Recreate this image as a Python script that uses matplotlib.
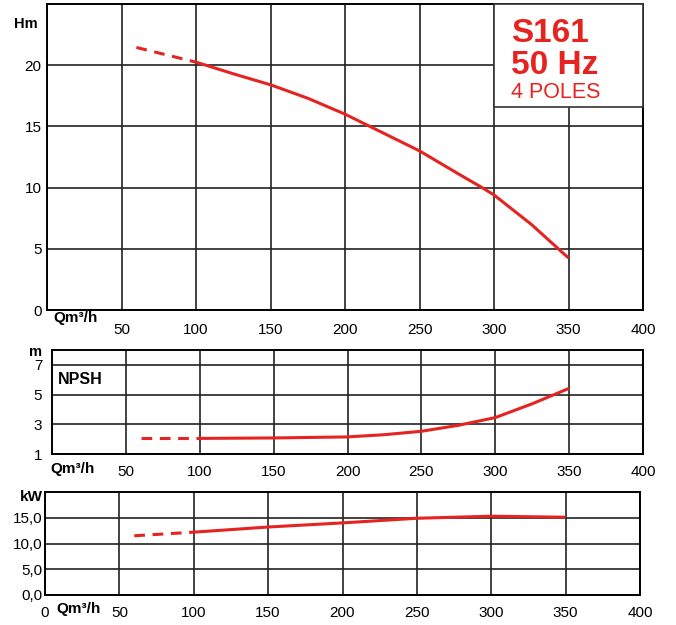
import matplotlib
matplotlib.use("Agg")
import matplotlib.pyplot as plt
from matplotlib.patches import Rectangle

plt.rcParams['font.family'] = ['Liberation Sans', 'DejaVu Sans']

# ---- data ----
q_ticks = [0, 50, 100, 150, 200, 250, 300, 350, 400]
q_labels_top = ['', '50', '100', '150', '200', '250', '300', '350', '400']
q_labels_bot = ['0', '50', '100', '150', '200', '250', '300', '350', '400']

h_dash_q = [60, 100]
h_dash_v = [21.45, 20.25]
h_q = [100, 125, 150, 175, 200, 225, 250, 275, 292, 300, 325, 350]
h_v = [20.25, 19.3, 18.4, 17.3, 16.0, 14.5, 13.0, 11.2, 10.0, 9.4, 7.0, 4.25]

n_dash_q = [60, 100]
n_dash_v = [2.05, 2.05]
n_q = [100, 150, 200, 225, 250, 275, 300, 325, 350]
n_v = [2.05, 2.08, 2.15, 2.3, 2.53, 2.93, 3.45, 4.38, 5.42]

p_dash_q = [60, 100]
p_dash_v = [11.5, 12.2]
p_q = [100, 150, 200, 250, 300, 350]
p_v = [12.2, 13.2, 14.0, 14.9, 15.3, 15.1]

h_yticks = [0, 5, 10, 15, 20]
n_yticks = [1, 3, 5, 7]
p_yticks = [0, 5, 10, 15]
p_ylabels = ['0,0', '5,0', '10,0', '15,0']

RED = '#e52421'
GRID = '#222222'
W, H = 676, 625

fig = plt.figure(figsize=(W / 100, H / 100), dpi=100)


def px_axes(l, t, r, b):
    return fig.add_axes([l / W, 1 - b / H, (r - l) / W, (b - t) / H])


def style(ax, xlim, ylim, yticks, ylabels, xlabels, ypad, xpad):
    ax.set_xlim(*xlim)
    ax.set_ylim(*ylim)
    ax.set_xticks(q_ticks)
    ax.set_xticklabels(xlabels)
    ax.set_yticks(yticks)
    ax.set_yticklabels(ylabels)
    ax.tick_params(axis='both', length=0, labelsize=11, colors='black')
    ax.tick_params(axis='y', pad=ypad)
    ax.tick_params(axis='x', pad=xpad)
    ax.grid(True, color=GRID, lw=1.2)
    ax.set_axisbelow(True)
    for s in ax.spines.values():
        s.set_color('black')
        s.set_linewidth(1.4)


def txt(x, y, s, **kw):
    fig.text(x / W, 1 - y / H, s, **kw)


# ---- top: head ----
ax1 = px_axes(47, 4, 643, 310)
style(ax1, (0, 400), (0, 25), h_yticks, [str(v) for v in h_yticks],
      q_labels_top, 4, 9)
ax1.plot(h_dash_q, h_dash_v, color=RED, lw=2.2, dashes=(3.5, 2.5))
ax1.plot(h_q, h_v, color=RED, lw=2.2, solid_capstyle='butt')
ax1.add_patch(Rectangle((300, 16.6), 100, 8.4, facecolor='white',
                        edgecolor='#333333', lw=1.2, zorder=3, clip_on=False))
txt(511, 42, 'S161', color=RED, fontsize=24, fontweight='bold', va='baseline', zorder=5)
txt(511, 74, '50 Hz', color=RED, fontsize=24, fontweight='bold', va='baseline', zorder=5)
txt(511, 98.3, '4 POLES', color=RED, fontsize=15.5, va='baseline', zorder=5)
txt(25.7, 24.5, 'Hm', fontsize=10.5, fontweight='bold', ha='center', va='center')
txt(75.7, 318, 'Qm³/h', fontsize=11, fontweight='bold', ha='center', va='center')

# ---- middle: NPSH ----
ax2 = px_axes(52, 350, 643, 454)
style(ax2, (0, 400), (1, 8), n_yticks, [str(v) for v in n_yticks],
      q_labels_top, 7, 8)
ax2.plot(n_dash_q, n_dash_v, color=RED, lw=2.2, dashes=(3.5, 2.5))
ax2.plot(n_q, n_v, color=RED, lw=2.2, solid_capstyle='butt')
txt(36, 351.5, 'm', fontsize=10.5, fontweight='bold', ha='center', va='center')
txt(80.5, 380, 'NPSH', fontsize=11.5, fontweight='bold', ha='center', va='center')
txt(73, 469, 'Qm³/h', fontsize=11, fontweight='bold', ha='center', va='center')

# ---- bottom: power ----
ax3 = px_axes(45, 492, 640, 595)
style(ax3, (0, 400), (0, 20), p_yticks, p_ylabels, q_labels_bot, 2, 8)
ax3.plot(p_dash_q, p_dash_v, color=RED, lw=2.2, dashes=(3.5, 2.5))
ax3.plot(p_q, p_v, color=RED, lw=2.2, solid_capstyle='butt')
txt(31.7, 496.7, 'kW', fontsize=11, fontweight='bold', ha='center', va='center')
txt(78.4, 609, 'Qm³/h', fontsize=11, fontweight='bold', ha='center', va='center')

fig.savefig('out.png', dpi=100, facecolor='white')
